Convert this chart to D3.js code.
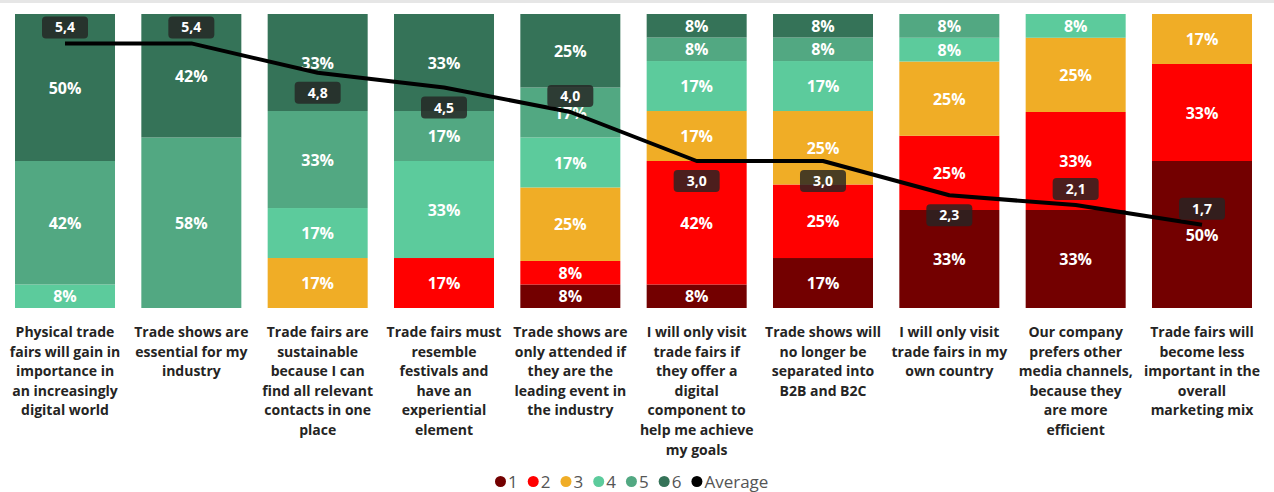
<!DOCTYPE html>
<html>
<head>
<meta charset="utf-8">
<script src="https://cdn.jsdelivr.net/npm/d3@7"></script>
<style>
  html, body { margin: 0; padding: 0; background: #fff; }
  svg { display: block; font-family: "Open Sans", "Noto Sans", sans-serif; }
</style>
</head>
<body>
<svg id="chart" width="1274" height="492"></svg>
<script>
// Survey statements (line breaks as shown under each column)
const categories = [
  "Physical trade\nfairs will gain in\nimportance in\nan increasingly\ndigital world",
  "Trade shows are\nessential for my\nindustry",
  "Trade fairs are\nsustainable\nbecause I can\nfind all relevant\ncontacts in one\nplace",
  "Trade fairs must\nresemble\nfestivals and\nhave an\nexperiential\nelement",
  "Trade shows are\nonly attended if\nthey are the\nleading event in\nthe industry",
  "I will only visit\ntrade fairs if\nthey offer a\ndigital\ncomponent to\nhelp me achieve\nmy goals",
  "Trade shows will\nno longer be\nseparated into\nB2B and B2C",
  "I will only visit\ntrade fairs in my\nown country",
  "Our company\nprefers other\nmedia channels,\nbecause they\nare more\nefficient",
  "Trade fairs will\nbecome less\nimportant in the\noverall\nmarketing mix"
];

// Share of answers per rating (1 = disagree ... 6 = agree), in percent
const rating1 = [0, 0, 0, 0, 8, 8, 17, 33, 33, 50];
const rating2 = [0, 0, 0, 17, 8, 42, 25, 25, 33, 33];
const rating3 = [0, 0, 17, 0, 25, 17, 25, 25, 25, 17];
const rating4 = [8, 0, 17, 33, 17, 17, 17, 8, 8, 0];
const rating5 = [42, 58, 33, 17, 17, 8, 8, 8, 0, 0];
const rating6 = [50, 42, 33, 33, 25, 8, 8, 0, 0, 0];

// Average rating per statement
const average = [5.4, 5.4, 4.8, 4.5, 4.0, 3.0, 3.0, 2.3, 2.1, 1.7];

const ratingKeys = ["1", "2", "3", "4", "5", "6"];
const colors = ["#730000", "#FF0000", "#F0AD26", "#5CCB9C", "#52A882", "#357358"];
const series = [rating1, rating2, rating3, rating4, rating5, rating6];

// Average label placement relative to its point (avoids the segment labels)
const avgLabelSide = ["up", "up", "down", "down", "up", "down", "down", "down", "up", "up"];

const rows = categories.map((c, i) => {
  const r = { category: c };
  ratingKeys.forEach((k, j) => { r[k] = series[j][i]; });
  return r;
});

const svg = d3.select("#chart");

// thin grey strip along the top edge
svg.append("rect").attr("x", 0).attr("y", 0).attr("width", 1274).attr("height", 3).attr("fill", "#e6e6e6");

const x = d3.scaleBand().domain(categories).range([15, 1252]).paddingInner(0.2084).paddingOuter(0);
const y = d3.scaleLinear().domain([0, 1]).range([308, 14]);
const y2 = d3.scaleLinear().domain([0, 6]).range([308, 14]);
const color = d3.scaleOrdinal().domain(ratingKeys).range(colors);

const stacked = d3.stack().keys(ratingKeys).offset(d3.stackOffsetExpand)(rows);

const layer = svg.append("g").selectAll("g")
  .data(stacked)
  .join("g")
  .attr("fill", d => color(d.key));

layer.selectAll("rect")
  .data(d => d.map(p => ({ p, key: d.key })))
  .join("rect")
  .attr("x", d => x(d.p.data.category))
  .attr("width", x.bandwidth())
  .attr("y", d => y(d.p[1]))
  .attr("height", d => Math.max(0, y(d.p[0]) - y(d.p[1])));

// percentage labels in each segment
const segLabels = svg.append("g")
  .attr("font-size", 16)
  .attr("font-weight", 700)
  .attr("fill", "#fff")
  .attr("text-anchor", "middle");

stacked.forEach(s => {
  s.forEach(p => {
    const v = p.data[s.key];
    if (!v) return;
    segLabels.append("text")
      .attr("x", x(p.data.category) + x.bandwidth() / 2)
      .attr("y", (y(p[0]) + y(p[1])) / 2)
      .attr("dy", "0.38em")
      .text(v + "%");
  });
});

// average line
const line = d3.line()
  .x((d, i) => x(categories[i]) + x.bandwidth() / 2)
  .y(d => y2(d));

svg.append("path")
  .datum(average)
  .attr("fill", "none")
  .attr("stroke", "#000")
  .attr("stroke-width", 4)
  .attr("stroke-linejoin", "round")
  .attr("d", line);

// average value badges
const fmt = v => d3.format(".1f")(v).replace(".", ",");
const badges = svg.append("g").selectAll("g")
  .data(average)
  .join("g")
  .attr("transform", (d, i) => {
    const cx = x(categories[i]) + x.bandwidth() / 2;
    const cy = y2(d) + (avgLabelSide[i] === "up" ? -16 : 20);
    return `translate(${cx},${cy})`;
  });

badges.append("rect")
  .attr("x", -23).attr("y", -11).attr("width", 46).attr("height", 22)
  .attr("rx", 4)
  .attr("fill", "#252423")
  .attr("fill-opacity", 0.82);

badges.append("text")
  .attr("text-anchor", "middle")
  .attr("dy", "0.36em")
  .attr("font-size", 14)
  .attr("font-weight", 700)
  .attr("fill", "#fff")
  .text(fmt);

// category labels under the columns
const xLabels = svg.append("g")
  .attr("font-size", 14)
  .attr("font-weight", 700)
  .attr("fill", "#252423")
  .attr("text-anchor", "middle");

categories.forEach(c => {
  const t = xLabels.append("text")
    .attr("x", x(c) + x.bandwidth() / 2)
    .attr("y", 337);
  c.split("\n").forEach((ln, k) => {
    t.append("tspan")
      .attr("x", x(c) + x.bandwidth() / 2)
      .attr("dy", k === 0 ? 0 : 19.6)
      .text(ln);
  });
});

// legend
const legendItems = ratingKeys.map((k, i) => ({ label: k, color: colors[i] }))
  .concat([{ label: "Average", color: "#000" }]);
const legend = svg.append("g").attr("font-size", 17).attr("fill", "#555");
let lx = 495;
legendItems.forEach(it => {
  const g = legend.append("g").attr("transform", `translate(${lx},481.5)`);
  g.append("circle").attr("cx", 5.5).attr("cy", 0).attr("r", 5.5).attr("fill", it.color);
  const t = g.append("text").attr("x", 13).attr("dy", "0.36em").text(it.label);
  lx += 13 + t.node().getComputedTextLength() + 10;
});
</script>
</body>
</html>
